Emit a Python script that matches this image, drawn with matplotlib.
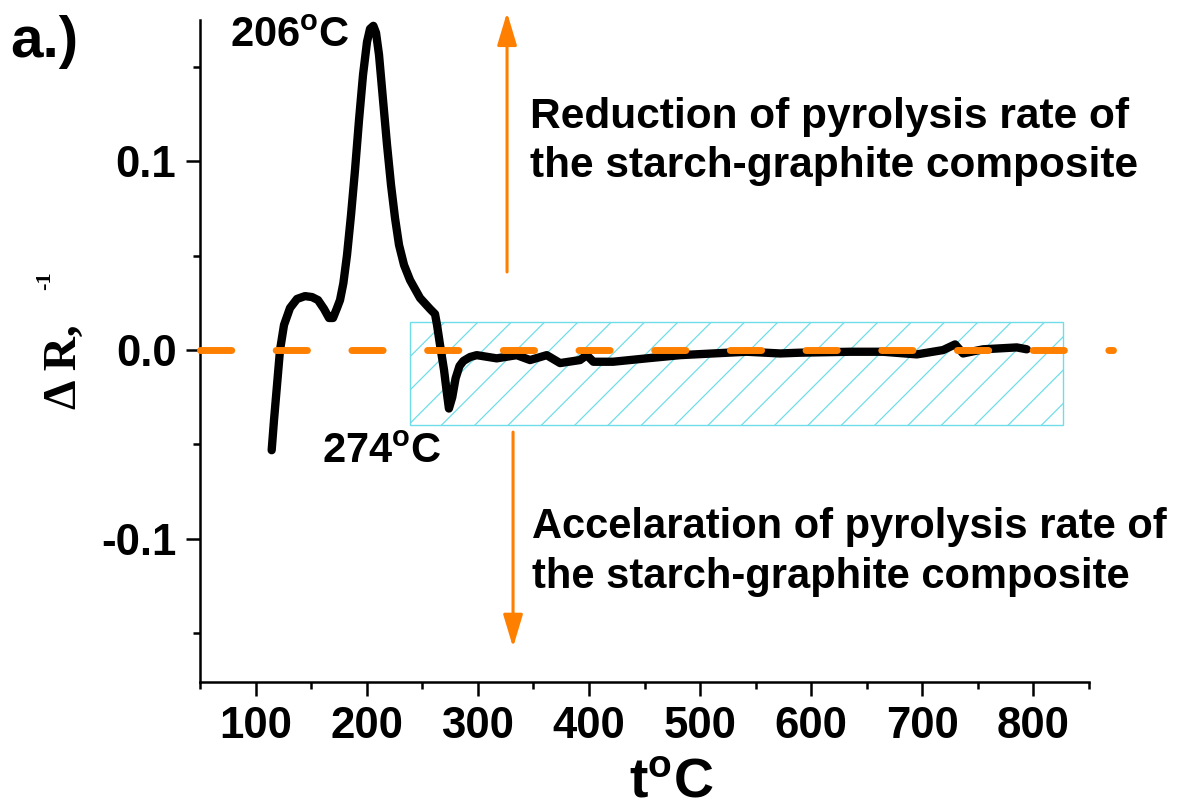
import matplotlib
matplotlib.use("Agg")
import matplotlib.pyplot as plt
from matplotlib.patches import Rectangle

plt.rcParams['font.family'] = ['Liberation Sans', 'DejaVu Sans']
plt.rcParams['font.weight'] = 'bold'
plt.rcParams['mathtext.fontset'] = 'custom'
plt.rcParams['mathtext.rm'] = 'Liberation Sans:bold'
plt.rcParams['mathtext.it'] = 'Liberation Sans:bold'
plt.rcParams['mathtext.bf'] = 'Liberation Sans:bold'
plt.rcParams['hatch.linewidth'] = 0.9

# difference of pyrolysis rate, composite vs starch
temp = [114.5, 116.6, 119.3, 122.0, 125.6, 131.0, 137.3, 144.5, 150.8, 156.2,
        161.6, 166.1, 169.7, 173.3, 176.0, 179.0, 182.3, 185.9, 189.5, 193.1,
        196.7, 200.3, 203.0, 206.0, 208.4, 211.1, 214.7, 218.3, 221.9, 225.5,
        229.1, 233.6, 239.0, 248.0, 257.0, 261.5, 263.3, 266.0, 269.6, 272.0,
        274.0, 277.0, 280.0, 283.5, 287.0, 293.0, 299.0, 317.0, 335.0, 347.0,
        362.0, 374.0, 392.0, 398.0, 404.0, 421.7, 452.0, 482.0, 511.7, 542.0,
        572.0, 590.0, 635.0, 664.7, 695.0, 718.7, 729.5, 736.7, 754.7, 785.0,
        794.0]
delta_r = [-0.0531, -0.0371, -0.0186, 0.0, 0.0133, 0.0223, 0.0271, 0.0286, 0.0281, 0.0265,
           0.0218, 0.0170, 0.0170, 0.0223, 0.0265, 0.0354, 0.0504, 0.0716, 0.0955, 0.1220,
           0.1459, 0.1634, 0.1703, 0.1719, 0.1682, 0.1565, 0.1326, 0.1088, 0.0875, 0.0700,
           0.0557, 0.0451, 0.0371, 0.0276, 0.0218, 0.0191, 0.0133, 0.0027, -0.0106, -0.0220,
           -0.0310, -0.0250, -0.0150, -0.0085, -0.0058, -0.0037, -0.0027, -0.0044, -0.0027, -0.0053,
           -0.0027, -0.0069, -0.0053, -0.0027, -0.0062, -0.0062, -0.0044, -0.0027, -0.0018, -0.0009,
           -0.0018, -0.0014, -0.0009, -0.0009, -0.0023, 0.0, 0.0030, -0.0018, 0.0004, 0.0014,
           0.0004]

baseline_t = [50, 872]
baseline_y = [0, 0]

stable_t = (239, 827)
stable_r = (-0.040, 0.015)

x_ticks = [100, 200, 300, 400, 500, 600, 700, 800]
y_ticks = [-0.1, 0.0, 0.1]

orange = '#ff8000'
cyan = '#6fdde8'

fig = plt.figure(figsize=(12.02, 8.07), dpi=100)
ax = fig.add_axes([200 / 1202, 1 - 682 / 807, 889 / 1202, 662 / 807])

ax.add_patch(Rectangle((stable_t[0], stable_r[0]), stable_t[1] - stable_t[0],
                       stable_r[1] - stable_r[0], facecolor='none',
                       edgecolor=cyan, hatch='/', lw=1.0, zorder=1))

ax.plot(temp, delta_r, color='black', lw=6, solid_joinstyle='round',
        solid_capstyle='round', zorder=2)

ax.plot(baseline_t, baseline_y, color=orange, lw=5, dashes=(4.5, 6.4),
        dash_capstyle='round', clip_on=False, zorder=3)

# arrows showing the sense of the difference
arrow = dict(arrowstyle='-|>,head_length=1.0,head_width=0.3', color=orange,
             lw=2.2, mutation_scale=20, shrinkA=0, shrinkB=0)
ax.annotate('', xy=(326.3, 0.179), xytext=(326.3, 0.0414),
            arrowprops=arrow, annotation_clip=False)
ax.annotate('', xy=(331.7, -0.1576), xytext=(331.7, -0.0435),
            arrowprops=arrow, annotation_clip=False)

ax.text(347, 0.1105, 'Reduction of pyrolysis rate of\nthe starch-graphite composite',
        fontsize=30.5, fontweight='bold', ha='left', va='center', linespacing=1.3)
ax.text(348.8, -0.1072, 'Accelaration of pyrolysis rate of\nthe starch-graphite composite',
        fontsize=30, fontweight='bold', ha='left', va='center', linespacing=1.32)

ax.text(77, 0.1607, '206$^{o}$C', fontsize=30, fontweight='bold',
        ha='left', va='baseline', clip_on=False)
ax.text(159.8, -0.060, '274$^{o}$C', fontsize=30, fontweight='bold',
        ha='left', va='baseline')

ax.set_xlim(50, 850)
ax.set_ylim(-0.176, 0.175)
ax.set_xticks(x_ticks)
ax.set_xticks([50, 150, 250, 350, 450, 550, 650, 750, 850], minor=True)
ax.set_yticks(y_ticks)
ax.set_yticks([-0.15, -0.05, 0.05, 0.15], minor=True)
ax.set_xticklabels([str(v) for v in x_ticks])
ax.set_yticklabels(['-0.1', '0.0', '0.1'])

for side in ['top', 'right']:
    ax.spines[side].set_visible(False)
for side in ['left', 'bottom']:
    ax.spines[side].set_linewidth(1.8)

ax.tick_params(which='major', direction='out', length=10, width=1.8,
               labelsize=31.5, pad=7)
ax.tick_params(which='minor', direction='out', length=5, width=1.8)
for lab in ax.get_xticklabels() + ax.get_yticklabels():
    lab.set_fontweight('bold')

fig.text(671 / 1202, 1 - 797 / 807, 't$^{o}$C', fontsize=40,
         fontweight='bold', ha='center', va='baseline')
fig.text(65 / 1202, 1 - 367 / 807, '\u0394 R,', fontsize=34, rotation=90,
         family='Liberation Serif', fontweight='bold', ha='center', va='center')
fig.text(45 / 1202, 1 - 281 / 807, '-1', fontsize=16, rotation=90,
         family='Liberation Serif', fontweight='bold', ha='center', va='center')
fig.text(10 / 1202, 1 - 15 / 807, 'a.)', fontsize=42, fontweight='bold',
         ha='left', va='top')

fig.savefig('out.png', dpi=100)
